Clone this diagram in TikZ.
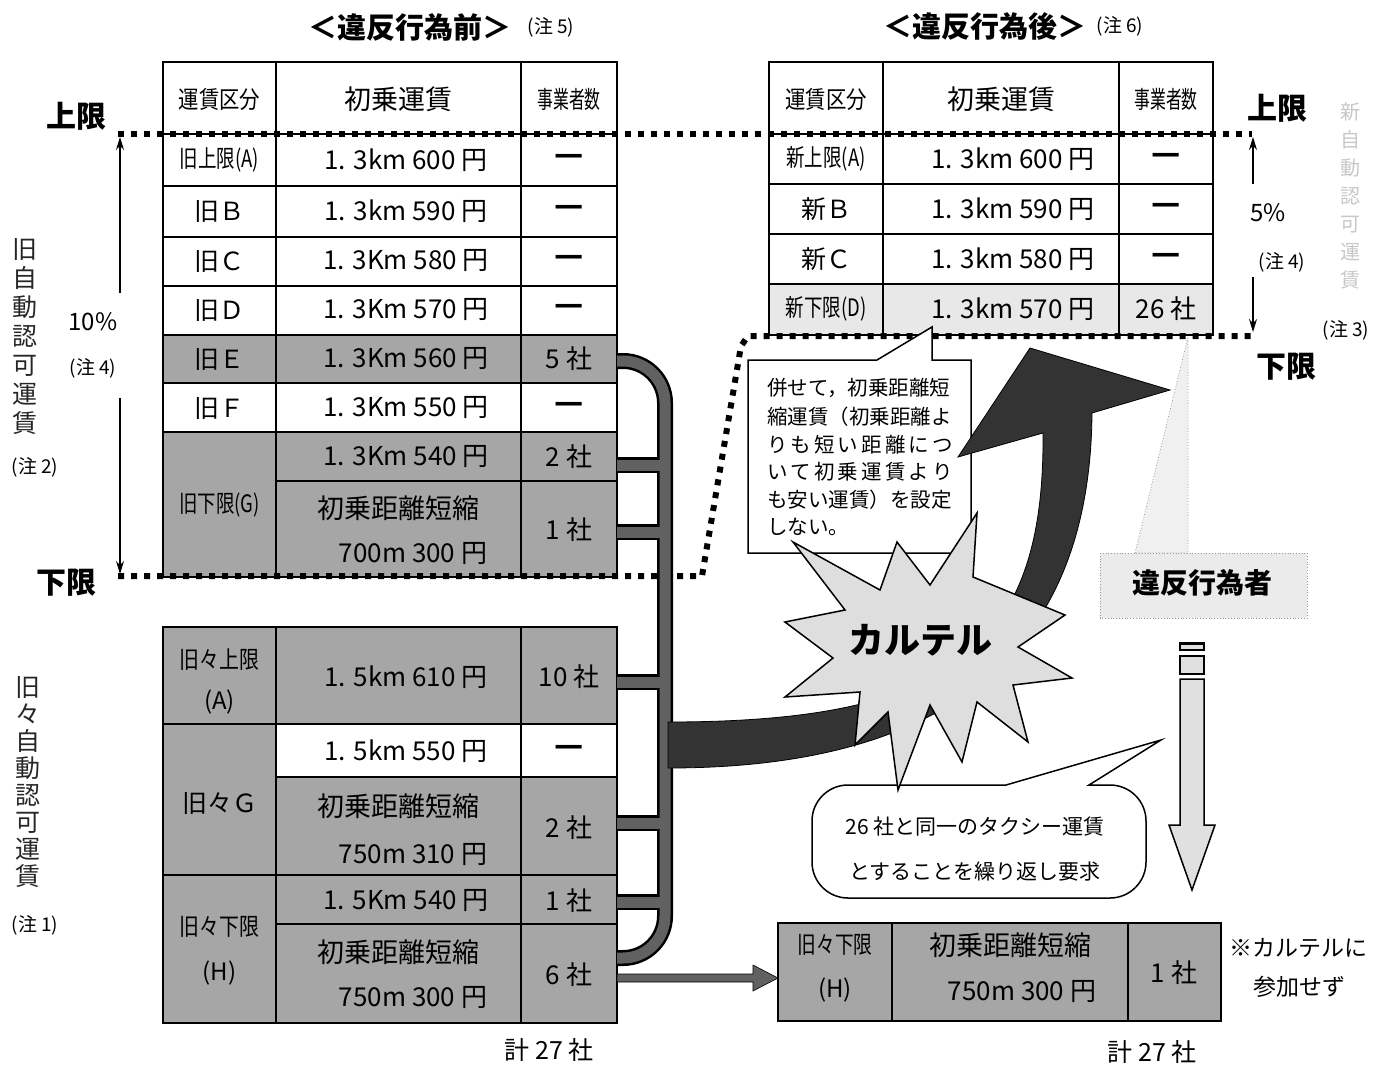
\documentclass[tikz,border=0pt]{standalone}
\usepackage{fontspec}
\setmainfont{Noto Sans CJK JP}
\usepackage{graphicx}
\usetikzlibrary{arrows.meta}
\newcommand\fsz[2]{\fontsize{#1}{#2}\selectfont}
\newcommand\cnd[2]{\scalebox{#1}[1]{#2}}
\begin{document}
\begin{tikzpicture}[x=1pt,y=-1pt,
  every node/.style={inner sep=0pt,outer sep=0pt},
  wc/.style={fill=white,draw=black,line width=1.4pt},
  sc/.style={fill=black!35,draw=black,line width=1.4pt},
  lc/.style={fill=black!9,draw=black,line width=1.4pt},
  dotline/.style={line width=6pt,dash pattern=on 6pt off 7pt},
  limarr/.style={line width=1.3pt,-{Stealth[length=13pt,width=8pt]}},
  barout/.style={line width=16pt,black},
  barin/.style={line width=11pt,black!62},
  hd/.style={font=\bfseries\fsz{29}{33}},
  lim/.style={font=\bfseries\fsz{30}{34}},
  nt/.style={font=\fsz{19}{22}},
  th/.style={font=\fsz{24}{28}},
  tc/.style={font=\fsz{26}{30}},
  tk/.style={font=\fsz{25}{30}},
  dsh/.style={font=\bfseries\fsz{32}{34}},
  cl/.style={font=\fsz{20.5}{24},anchor=west},
  bb/.style={font=\fsz{21}{24}}
]
\useasboundingbox (0,0) rectangle (1386,1068);

% ---------- tables ----------
\foreach \ya/\yb/\st in {62/134/wc,134/186/wc,186/237/wc,237/286/wc,286/335/wc,335/383/sc,383/432/wc}{
  \foreach \xa/\xb in {163/276,276/521,521/617}{\path[\st] (\xa,\ya) rectangle (\xb,\yb);}}
\path[sc] (163,432) rectangle (276,577);
\path[sc] (276,432) rectangle (521,481);
\path[sc] (521,432) rectangle (617,481);
\path[sc] (276,481) rectangle (521,577);
\path[sc] (521,481) rectangle (617,577);

\foreach \xa/\xb in {163/276,276/521,521/617}{\path[sc] (\xa,627) rectangle (\xb,724);}
\path[sc] (163,724) rectangle (276,875);
\path[wc] (276,724) rectangle (521,777);
\path[wc] (521,724) rectangle (617,777);
\path[sc] (276,777) rectangle (521,875);
\path[sc] (521,777) rectangle (617,875);
\path[sc] (163,875) rectangle (276,1023);
\path[sc] (276,875) rectangle (521,924);
\path[sc] (521,875) rectangle (617,924);
\path[sc] (276,924) rectangle (521,1023);
\path[sc] (521,924) rectangle (617,1023);

\foreach \ya/\yb/\st in {62/134/wc,134/184/wc,184/234/wc,234/284/wc,284/335/lc}{
  \foreach \xa/\xb in {769/883,883/1119,1119/1213}{\path[\st] (\xa,\ya) rectangle (\xb,\yb);}}

\foreach \xa/\xb in {778/892,892/1128,1128/1221}{\path[sc] (\xa,923) rectangle (\xb,1021);}

% ---------- limit dotted lines ----------
\draw[dotline] (118,134) -- (1252,134);
\draw[dotline] (118,576) -- (702,576) -- (741,346) -- (748,336) -- (1252,336);

% ---------- bracket bar ----------
\draw[barout] (617,361) [rounded corners=42] -- (665,361) -- (665,958) -- (617,958);
\foreach \yy in {465,532,682,823,902}{\draw[barout] (617,\yy) -- (665,\yy);}
\draw[barin] (617,361) [rounded corners=42] -- (665,361) -- (665,958) -- (617,958);
\foreach \yy in {465,532,682,823,902}{\draw[barin] (617,\yy) -- (665,\yy);}

% small arrow from 6 companies to the outsider
\filldraw[fill=black!62,draw=black,line width=0.6pt] (617,974) -- (753,974) -- (753,965) -- (778,978) -- (753,991) -- (753,982) -- (617,982) -- cycle;

% ---------- callout box ----------
\filldraw[fill=white,draw=black,line width=1.5pt] (748,360) -- (877,360) -- (932,327) -- (932,360) -- (971,360) -- (971,553) -- (748,553) -- cycle;
\node[cl] (cl1) at (767,388) {併せて，初乗距離短};
\node[cl] (cl2) at (767,417) {縮運賃（初乗距離よ};
\node[cl] (cl3) at (767,445) {\makebox[186pt][s]{り\hfil も\hfil 短\hfil い\hfil 距\hfil 離\hfil に\hfil つ}};
\node[cl] (cl4) at (767,472) {\makebox[186pt][s]{い\hfil て\hfil 初\hfil 乗\hfil 運\hfil 賃\hfil よ\hfil り}};
\node[cl] (cl5) at (767,500) {も安い運賃）を設定};
\node[cl] (cl6) at (767,527) {しない。};

% ---------- big curved arrow ----------
\filldraw[fill=black!80,draw=black,line width=0.8pt] (668,722) .. controls (950,722) and (1045,650) .. (1043,433) -- (958,457) -- (1030,348) -- (1170,390) -- (1092,413) .. controls (1090,650) and (950,768) .. (668,768) -- cycle;

% ---------- offender label ----------
\filldraw[fill=black!6,draw=black!40,line width=0.8pt,dotted] (1135,553) -- (1188,337) -- (1188,553) -- cycle;
\filldraw[fill=black!8,draw=black!40,line width=0.8pt,dotted] (1100,553) rectangle (1307,618);
\node[font=\bfseries\fsz{28}{32}] (ihan) at (1202,583) {違反行為者};

% ---------- speech bubble ----------
\draw[fill=white,line width=1.5pt] (950,785) -- (1006,785) -- (1161,740) -- (1089,785) -- (1095,785) [rounded corners=36] -- (1146,785) -- (1146,898) -- (812,898) -- (812,785) -- (900,785) [sharp corners] -- (950,785) -- cycle;
\node[bb] (bub1) at (975,827) {26 社と同一のタクシー運賃};
\node[bb] (bub2) at (975,872) {とすることを繰り返し要求};

% ---------- star ----------
\filldraw[fill=black!13,draw=black,line width=1.5pt] (793,542) -- (880,590) -- (897,542) -- (930,585) -- (977,513) -- (973,577) -- (1065,615) -- (1018,647) -- (1072,678) -- (1013,685) -- (1028,742) -- (977,702) -- (962,762) -- (930,705) -- (898,790) -- (888,712) -- (855,745) -- (860,692) -- (785,697) -- (833,658) -- (785,622) -- (845,610) -- cycle;
\node[font=\bfseries\fsz{36}{40}] (cartel) at (920,640) {カルテル};

% ---------- hollow down arrow ----------
\filldraw[fill=black!12,draw=black,line width=1.5pt] (1180,643) rectangle (1204,650);
\draw[line width=3pt] (1180,643) -- (1204,643);
\filldraw[fill=black!12,draw=black,line width=1.5pt] (1180,656) rectangle (1204,674);
\filldraw[fill=black!12,draw=black,line width=1.5pt] (1180,679) -- (1204,679) -- (1204,825) -- (1215,825) -- (1192,890) -- (1169,825) -- (1180,825) -- cycle;

% ---------- titles ----------
\node[hd] (hbef) at (410,27) {＜違反行為前＞};
\node[nt] (nbef) at (551,27) {(注 5)};
\node[hd] (haft) at (985,26) {＜違反行為後＞};
\node[nt] (naft) at (1120,26) {(注 6)};

% ---------- left annotations ----------
\node[lim] (ulL) at (76,116) {上限};
\node[lim] (llL) at (66,583) {下限};
\node[font=\fsz{24}{28}] (p10) at (93,322) {10\%};
\node[nt] (n4L) at (93,368) {(注 4)};
\coordinate (lu0) at (120,293); \coordinate (lu1) at (120,137);
\coordinate (ld0) at (120,398); \coordinate (ld1) at (120,574);
\draw[limarr] (lu0) -- (lu1);
\draw[limarr] (ld0) -- (ld1);
\node[font=\fsz{25}{29},align=center,text=black!85] (vold) at (25,337) {旧\\自\\動\\認\\可\\運\\賃};
\node[nt] (n2) at (35,467) {(注 2)};
\node[font=\fsz{25}{27},align=center,text=black!85] (voldold) at (28,782) {旧\\々\\自\\動\\認\\可\\運\\賃};
\node[nt] (n1) at (35,925) {(注 1)};

% ---------- right annotations ----------
\node[lim] (ulR) at (1277,108) {上限};
\node[lim] (llR) at (1286,367) {下限};
\node[font=\fsz{24}{28}] (p5) at (1268,213) {5\%};
\node[nt] (n4R) at (1282,262) {(注 4)};
\node[nt] (n3) at (1346,330) {(注 3)};
\coordinate (ru0) at (1253,184); \coordinate (ru1) at (1253,137);
\coordinate (rd0) at (1253,277); \coordinate (rd1) at (1253,332);
\draw[limarr] (ru0) -- (ru1);
\draw[limarr] (rd0) -- (rd1);
\node[font=\fsz{20}{28},align=center,text=black!22] (vnew) at (1350,196) {新\\自\\動\\認\\可\\運\\賃};

% ---------- texts: table before ----------
\node[th] (bh1) at (219.5,99) {\cnd{0.85}{運賃区分}};
\node[font=\fsz{27}{30}] (bh2) at (398.5,99) {初乗運賃};
\node[th] (bh3) at (569,99) {\cnd{0.66}{事業者数}};
\node[th] (ba1) at (219.5,160) {\cnd{0.77}{旧上限(A)}};
\node[tc] (ba2) at (406,160) {1. 3km 600 円};
\node[dsh] (ba3) at (569,160) {—};
\node[tk] (bb1) at (219.5,211) {旧Ｂ};
\node[tc] (bb2) at (406,211) {1. 3km 590 円};
\node[dsh] (bb3) at (569,211) {—};
\node[tk] (bc1) at (219.5,261) {旧Ｃ};
\node[tc] (bc2) at (406,261) {1. 3Km 580 円};
\node[dsh] (bc3) at (569,261) {—};
\node[tk] (bd1) at (219.5,310) {旧Ｄ};
\node[tc] (bd2) at (406,310) {1. 3Km 570 円};
\node[dsh] (bd3) at (569,310) {—};
\node[tk] (be1) at (219.5,359) {旧Ｅ};
\node[tc] (be2) at (406,359) {1. 3Km 560 円};
\node[tc] (be3) at (569,359) {5 社};
\node[tk] (bf1) at (219.5,408) {旧Ｆ};
\node[tc] (bf2) at (406,408) {1. 3Km 550 円};
\node[dsh] (bf3) at (569,408) {—};
\node[th] (bg1) at (219.5,505) {\cnd{0.77}{旧下限(G)}};
\node[tc] (bg2) at (406,457) {1. 3Km 540 円};
\node[tc] (bg3) at (569,457) {2 社};
\node[font=\fsz{27}{30}] (bg4) at (398.5,508) {初乗距離短縮};
\node[tc] (bg5) at (413,554) {700m 300 円};
\node[tc] (bg6) at (569,530) {1 社};

% ---------- texts: older table ----------
\node[th] (oa1) at (219.5,660) {\cnd{0.83}{旧々上限}};
\node[th] (oa1b) at (219.5,702) {(A)};
\node[tc] (oa2) at (406,677) {1. 5km 610 円};
\node[tc] (oa3) at (569,677) {10 社};
\node[tc] (og2) at (406,751) {1. 5km 550 円};
\node[dsh] (og3) at (569,751) {—};
\node[tk] (og1) at (219.5,803) {旧々Ｇ};
\node[font=\fsz{27}{30}] (og4) at (398.5,806) {初乗距離短縮};
\node[tc] (og5) at (413,855) {750m 310 円};
\node[tc] (og6) at (569,828) {2 社};
\node[tc] (oh2) at (406,901) {1. 5Km 540 円};
\node[tc] (oh3) at (569,901) {1 社};
\node[th] (oh1) at (219.5,927) {\cnd{0.83}{旧々下限}};
\node[th] (oh1b) at (219.5,973) {(H)};
\node[font=\fsz{27}{30}] (oh4) at (398.5,952) {初乗距離短縮};
\node[tc] (oh5) at (413,998) {750m 300 円};
\node[tc] (oh6) at (569,975) {6 社};
\node[font=\fsz{25}{30}] (totL) at (549,1050) {計 27 社};

% ---------- texts: table after ----------
\node[th] (ah1) at (826,99) {\cnd{0.85}{運賃区分}};
\node[font=\fsz{27}{30}] (ah2) at (1001,99) {初乗運賃};
\node[th] (ah3) at (1166,99) {\cnd{0.66}{事業者数}};
\node[th] (aa1) at (826,159) {\cnd{0.77}{新上限(A)}};
\node[tc] (aa2) at (1013,159) {1. 3km 600 円};
\node[dsh] (aa3) at (1166,159) {—};
\node[tk] (ab1) at (826,209) {新Ｂ};
\node[tc] (ab2) at (1013,209) {1. 3km 590 円};
\node[dsh] (ab3) at (1166,209) {—};
\node[tk] (ac1) at (826,259) {新Ｃ};
\node[tc] (ac2) at (1013,259) {1. 3km 580 円};
\node[dsh] (ac3) at (1166,259) {—};
\node[th] (ad1) at (826,309) {\cnd{0.77}{新下限(D)}};
\node[tc] (ad2) at (1013,309) {1. 3km 570 円};
\node[tc] (ad3) at (1166,309) {26 社};

% ---------- texts: outsider ----------
\node[th] (xo1) at (835,945) {\cnd{0.78}{旧々下限}};
\node[th] (xo1b) at (835,990) {(H)};
\node[font=\fsz{27}{30}] (xo2) at (1010,945) {初乗距離短縮};
\node[tc] (xo3) at (1022,992) {750m 300 円};
\node[tc] (xo4) at (1174,973) {1 社};
\node[font=\fsz{23}{27}] (xn1) at (1298,948) {※カルテルに};
\node[font=\fsz{23}{27}] (xn2) at (1299,987) {参加せず};
\node[font=\fsz{25}{30}] (totR) at (1152,1052) {計 27 社};
\end{tikzpicture}
\end{document}
